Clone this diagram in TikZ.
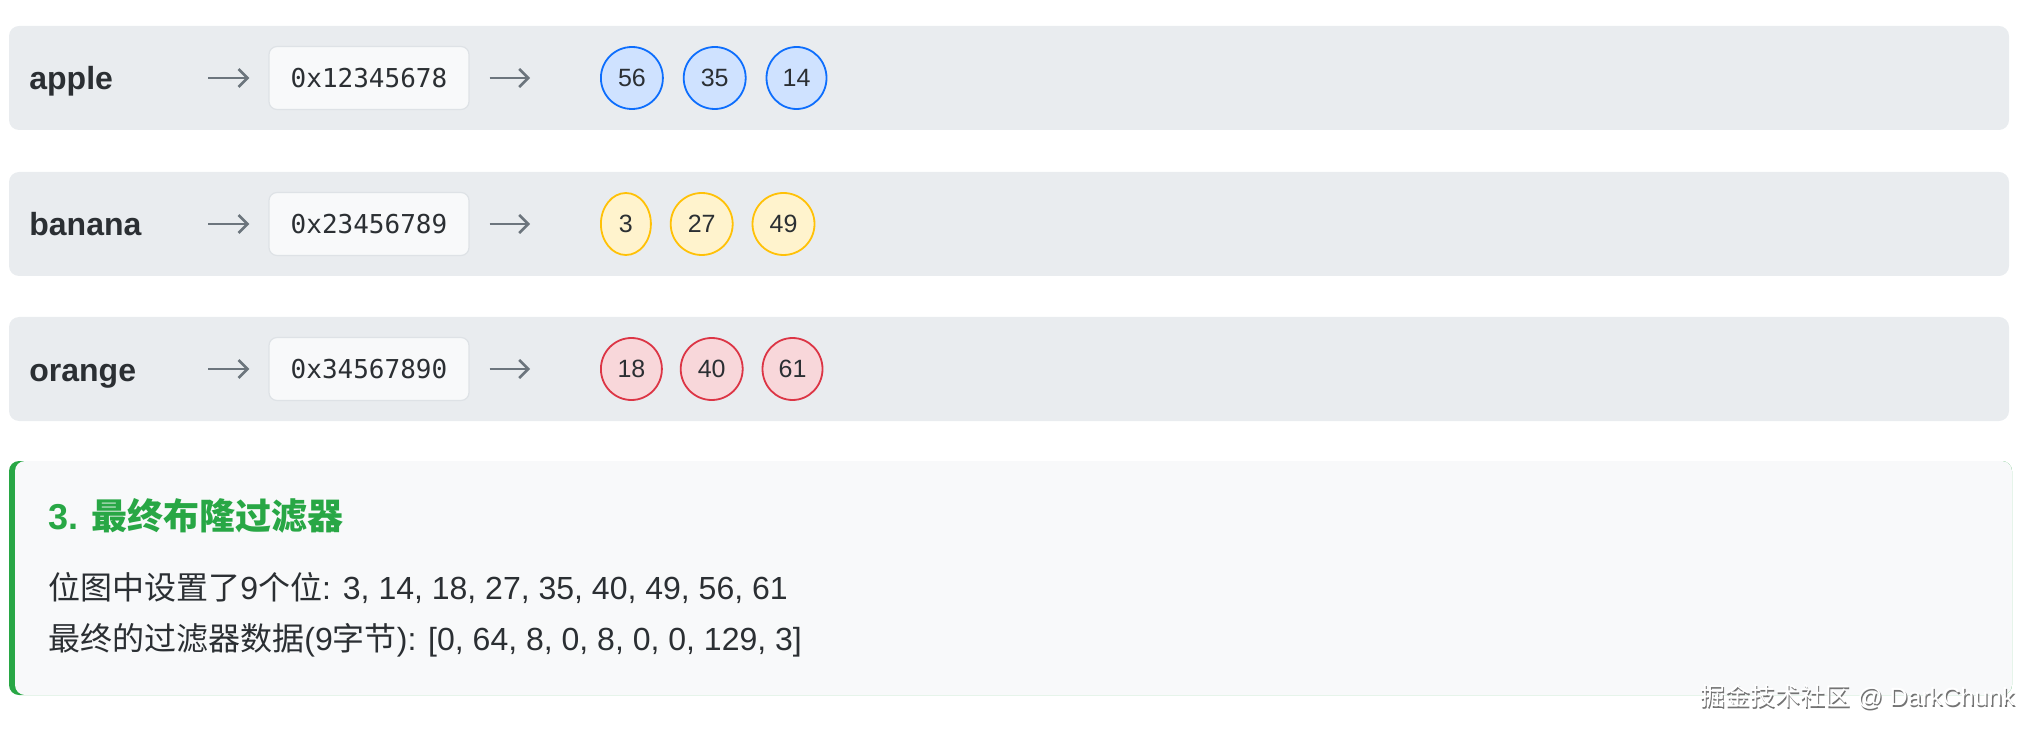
\documentclass[tikz,border=0pt]{standalone}
\usepackage{fontspec}
\setmainfont{Liberation Sans}
\setmonofont{DejaVu Sans Mono}
\newfontfamily\cjk{Noto Sans CJK SC}
\usetikzlibrary{arrows.meta, shapes.geometric, positioning}
\definecolor{ink}{HTML}{2B2F33}
\definecolor{rowbg}{HTML}{E9ECEF}
\definecolor{hexbg}{HTML}{F8F9FA}
\definecolor{hexline}{HTML}{DEE2E6}
\definecolor{arrgray}{HTML}{6C757D}
\definecolor{bluef}{HTML}{CFE2FF}
\definecolor{bluel}{HTML}{0D6EFD}
\definecolor{yellowf}{HTML}{FFF3CD}
\definecolor{yellowl}{HTML}{FFC107}
\definecolor{redf}{HTML}{F8D7DA}
\definecolor{redl}{HTML}{DC3545}
\definecolor{okgreen}{HTML}{28A745}
\definecolor{notebg}{HTML}{F8F9FA}

\begin{document}
\begin{tikzpicture}[x=1pt, y=-1pt,
    key/.style={anchor=west, inner sep=0pt, text=ink, text height=12pt, text depth=0pt,
      font=\fontsize{16}{16}\selectfont\bfseries},
    addr/.style={draw=hexline, fill=hexbg, line width=0.6pt, rounded corners=4pt,
      minimum width=100pt, minimum height=31.5pt, inner sep=0pt, text=ink,
      font=\ttfamily\fontsize{13}{13}\selectfont},
    bit/.style={ellipse, line width=0.9pt, minimum width=31pt, minimum height=31pt,
      inner sep=0pt, text=ink, font=\fontsize{12.5}{12.5}\selectfont},
    bluebit/.style={bit, draw=bluel, fill=bluef},
    yellowbit/.style={bit, draw=yellowl, fill=yellowf},
    redbit/.style={bit, draw=redl, fill=redf},
    arr/.style={draw=arrgray, line width=1.3pt, -{Straight Barb[length=4.5pt,width=9pt]}},
    line/.style={anchor=west, inner sep=0pt, text=ink, text height=12pt, text depth=0pt,
      font=\fontsize{16}{16}\selectfont},
  ]
  \useasboundingbox (0,0) rectangle (1019,366);

  % apple
  \fill[rowbg, rounded corners=5pt] (4.5,13) rectangle (1004.5,65);
  \node[key] (apple) at (14.5,39) {apple};
  \coordinate (apple-in) at (104,39);
  \node[addr] (applehex) at (184.5,39) {0x12345678};
  \coordinate (apple-out) at (265,39);
  \draw[arr, shorten >=9.5pt] (apple-in) -- (applehex);
  \draw[arr, shorten <=10pt] (applehex) -- (apple-out);
  \node[bluebit, anchor=west] (apple1) at (300,39) {56};
  \node[bluebit, right=9.5pt of apple1] (apple2) {35};
  \node[bluebit, minimum width=30pt, right=9.5pt of apple2] (apple3) {14};

  % banana
  \fill[rowbg, rounded corners=5pt] (4.5,86) rectangle (1004.5,138);
  \node[key] (banana) at (14.5,112) {banana};
  \coordinate (banana-in) at (104,112);
  \node[addr] (bananahex) at (184.5,112) {0x23456789};
  \coordinate (banana-out) at (265,112);
  \draw[arr, shorten >=9.5pt] (banana-in) -- (bananahex);
  \draw[arr, shorten <=10pt] (bananahex) -- (banana-out);
  \node[yellowbit, minimum width=25pt, anchor=west] (banana1) at (300,112) {3};
  \node[yellowbit, right=9pt of banana1] (banana2) {27};
  \node[yellowbit, right=9pt of banana2] (banana3) {49};

  % orange
  \fill[rowbg, rounded corners=5pt] (4.5,158.5) rectangle (1004.5,210.5);
  \node[key] (orange) at (14.5,184.5) {orange};
  \coordinate (orange-in) at (104,184.5);
  \node[addr] (orangehex) at (184.5,184.5) {0x34567890};
  \coordinate (orange-out) at (265,184.5);
  \draw[arr, shorten >=9.5pt] (orange-in) -- (orangehex);
  \draw[arr, shorten <=10pt] (orangehex) -- (orange-out);
  \node[redbit, minimum width=30.5pt, anchor=west] (orange1) at (300,184.5) {18};
  \node[redbit, right=8.5pt of orange1] (orange2) {40};
  \node[redbit, minimum width=30pt, right=9pt of orange2] (orange3) {61};

  % result
  \fill[okgreen, rounded corners=5pt] (4.5,230.5) rectangle (1006,347.5);
  \fill[notebg, rounded corners=5pt] (7.5,230.5) rectangle (1006,347.5);
  \node[line, text=okgreen, text height=13pt, font=\fontsize{18}{18}\selectfont\bfseries]
    (title) at (24,258.2) {3. {\cjk 最终布隆过滤器}};
  \node[line] (bits) at (24,293.7)
    {{\cjk 位图中设置了}9{\cjk 个位}: 3, 14, 18, 27, 35, 40, 49, 56, 61};
  \node[line] (bytes) at (24,319.2)
    {{\cjk 最终的过滤器数据}(9{\cjk 字节}): [0, 64, 8, 0, 8, 0, 0, 129, 3]};

  \node[anchor=east, inner sep=0pt, text=black!55, font=\fontsize{12.5}{12.5}\selectfont]
    (markshadow) at (1008.2,349.2) {{\cjk 掘金技术社区} @ DarkChunk};
  \node[anchor=east, inner sep=0pt, text=white, font=\fontsize{12.5}{12.5}\selectfont]
    (mark) at (1007.5,348.5) {{\cjk 掘金技术社区} @ DarkChunk};
\end{tikzpicture}
\end{document}
